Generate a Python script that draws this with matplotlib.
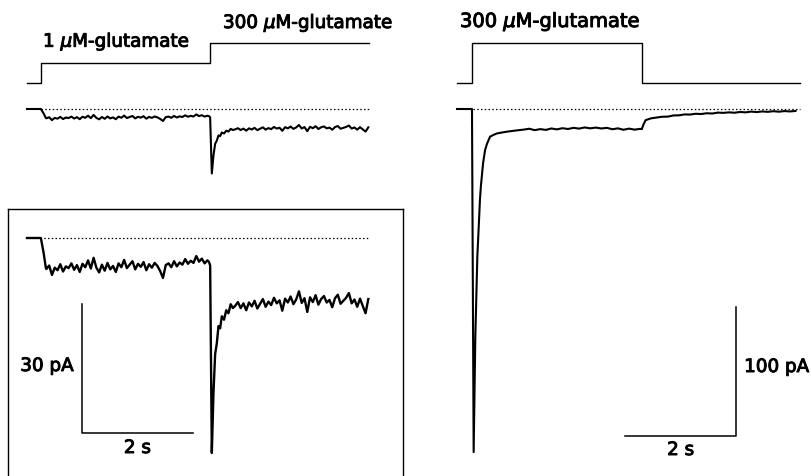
import numpy as np
import matplotlib
matplotlib.use('Agg')
import matplotlib.pyplot as plt
import matplotlib.patheffects as pe

# figure size in pixels (dpi 100)
W, H = 811, 476

# glutamate application steps (0 = control, 1 = 1 uM, 2 = 300 uM)
cmd1_t = [0, 0.25, 0.25, 3.30, 3.30, 6.16]
cmd1_lvl = [0, 0, 1, 1, 2, 2]
cmd2_t = [0, 0.27, 0.27, 3.33, 3.33, 6.18]
cmd2_lvl = [0, 0, 2, 2, 0, 0]

# recording 1: 1 uM then 300 uM (pA)
dt = 0.05
rec1_on_t = [0, 0.25, 0.30, 0.34]
rec1_on_i = [0, 0, -3.5, -7.0]
rec1_p1_start = 0.35
rec1_p1 = [-7.2, -6.4, -8.6, -6.9, -7.5, -6.1, -7.8, -6.6, -7.0, -5.9,
           -7.4, -6.3, -7.9, -6.0, -6.8, -5.2, -7.1, -4.6, -6.9, -8.0,
           -6.2, -7.6, -5.8, -7.3, -6.5, -7.9, -5.9, -6.8, -5.1, -7.0,
           -6.2, -5.4, -7.3, -6.0, -6.7, -5.6, -7.5, -6.1, -6.9, -5.8,
           -6.5, -7.7, -9.3, -6.3, -5.9, -6.8, -5.4, -6.6, -5.7, -6.2,
           -4.9, -6.0, -5.3, -5.8, -4.2, -5.5, -4.8, -5.9, -5.2]
rec1_pk_t = [3.28, 3.30, 3.33, 3.36, 3.39, 3.42, 3.45, 3.48, 3.51, 3.55,
             3.59, 3.63, 3.67, 3.71]
rec1_pk_i = [-5.6, -6.4, -50.0, -36.0, -27.0, -24.5, -20.5, -21.0, -18.2, -19.0,
             -16.8, -17.5, -15.4, -16.3]
rec1_p2_start = 3.75
rec1_p2 = [-15.8, -14.9, -16.3, -15.2, -16.8, -15.0, -15.9, -14.6, -16.4, -15.3,
           -14.2, -16.0, -14.8, -15.6, -13.9, -15.2, -14.5, -16.9, -14.1, -15.0,
           -13.6, -15.4, -14.3, -12.4, -15.1, -14.0, -17.2, -13.8, -14.9, -13.3,
           -15.5, -14.2, -13.5, -15.0, -14.4, -16.1, -14.0, -13.2, -15.3, -14.6,
           -13.9, -12.8, -15.2, -14.3, -16.0, -14.1, -15.8, -17.5, -14.2]

# recording 2: 300 uM on and off (pA)
rec2_pk_t = [0, 0.27, 0.30, 0.33, 0.366, 0.414, 0.43, 0.47, 0.505, 0.54,
             0.595, 0.65, 0.715, 0.80, 0.895, 1.0, 1.135]
rec2_pk_i = [0, 0, -266, -177, -115, -70, -60, -42, -32, -27,
             -21.5, -20.2, -19.0, -18.3, -17.6, -17.0, -16.3]
rec2_p1_start = 1.2
rec2_p1 = [-16.0, -15.3, -16.4, -15.6, -16.2, -15.1, -15.8, -14.9, -15.5, -14.6,
           -15.2, -14.3, -15.0, -14.4, -15.1, -14.6, -15.7, -15.0, -16.1, -15.2,
           -16.0, -15.4]
rec2_off_t = [3.33, 3.36, 3.40, 3.45, 3.50]
rec2_off_i = [-15.6, -12.0, -8.6, -7.9, -7.2]
rec2_tail_start = 3.6
rec2_tail = [-6.6, -6.0, -5.9, -5.0, -4.9, -4.2, -4.3, -3.7, -3.9, -3.3,
             -3.5, -2.8, -3.0, -2.6, -2.9, -2.3, -2.6, -2.0, -2.4, -1.9,
             -2.2, -1.7, -2.1, -1.6, -1.9, -1.5]


def sampled(start, vals, step):
    return [start + k * step for k in range(len(vals))]


rec1_t = rec1_on_t + sampled(rec1_p1_start, rec1_p1, dt) + rec1_pk_t + sampled(rec1_p2_start, rec1_p2, dt)
rec1_i = rec1_on_i + rec1_p1 + rec1_pk_i + rec1_p2
rec2_t = rec2_pk_t + sampled(rec2_p1_start, rec2_p1, 0.1) + rec2_off_t + sampled(rec2_tail_start, rec2_tail, 0.1)
rec2_i = rec2_pk_i + rec2_p1 + rec2_off_i + rec2_tail

PX_S = 55.5          # pixels per second
PX_PA = 1.29         # pixels per pA (main traces)
PX_PA_INSET = 4.3    # pixels per pA (inset)

fig = plt.figure(figsize=(W / 100, H / 100), dpi=100)

# printed-looking text: thicken strokes a little
ink = [pe.withStroke(linewidth=0.7, foreground='black')]
tkw = dict(fontsize=13.2, va='baseline', path_effects=ink)


def panel(box, x0, y0, sx, sy):
    # box = left, top, right, bottom in pixels; (x0, y0) = pixel of the data origin
    l, t, r, b = box
    ax = fig.add_axes([l / W, 1 - b / H, (r - l) / W, (b - t) / H])
    ax.set_xlim((l - x0) / sx, (r - x0) / sx)
    ax.set_ylim((y0 - b) / sy, (y0 - t) / sy)
    ax.set_xticks([])
    ax.set_yticks([])
    for s in ax.spines.values():
        s.set_visible(False)
    ax.patch.set_alpha(0)
    return ax


dots = (0, (1.2, 1.8))

# left: application and trace
ax = panel((0, 0, 420, 100), 27, 83, PX_S, 20)
ax.plot(cmd1_t, cmd1_lvl, color='black', lw=1.0)
ax = panel((0, 90, 420, 200), 27, 109, PX_S, PX_PA)
ax.plot([0.25, 6.16], [0, 0], color='black', lw=0.9, linestyle=dots)
ax.plot(rec1_t, rec1_i, color='black', lw=1.5)

# right: application and trace
ax = panel((430, 0, 811, 100), 457, 83, PX_S, 20)
ax.plot(cmd2_t, cmd2_lvl, color='black', lw=1.0)
ax = panel((430, 90, 811, 476), 457, 109, PX_S, PX_PA)
ax.plot([0.29, 6.18], [0, 0], color='black', lw=0.9, linestyle=dots)
ax.plot(rec2_t, rec2_i, color='black', lw=1.5)
# scale bars 2 s / 100 pA
ax.plot([3.03, 5.03, 5.03], [-253.5, -253.5, -153.5], color='black', lw=1.1)
ax.text(5.03 + 8 / PX_S, -(372 - 109) / PX_PA, '100 pA', ha='left', **tkw)
ax.text(4.03, -(455 - 109) / PX_PA, '2 s', ha='center', **tkw)

# inset: enlarged recording 1
ax = panel((8, 209, 403, 490), 27, 238, PX_S, PX_PA_INSET)
for side in ['left', 'top', 'right']:
    ax.spines[side].set_visible(True)
    ax.spines[side].set_linewidth(1.0)
ax.plot([0.24, 6.14], [0, 0], color='black', lw=0.9, linestyle=dots)
ax.plot(rec1_t, rec1_i, color='black', lw=1.7)
ax.plot([0.99, 0.99, 2.99], [-15.3, -45.3, -45.3], color='black', lw=1.1)
ax.text(0.99 - 8 / PX_S, -(371 - 238) / PX_PA_INSET, '30 pA', ha='right', **tkw)
ax.text(1.99, -(453 - 238) / PX_PA_INSET, '2 s', ha='center', **tkw)

# labels
fig.text(43 / W, 1 - 46.7 / H, r'1 $\mu$M-glutamate', ha='left', **tkw)
fig.text(223 / W, 1 - 28 / H, r'300 $\mu$M-glutamate', ha='left', **tkw)
fig.text(460 / W, 1 - 27 / H, r'300 $\mu$M-glutamate', ha='left',
         **dict(tkw, fontsize=14))

fig.savefig('out.png', dpi=100)
